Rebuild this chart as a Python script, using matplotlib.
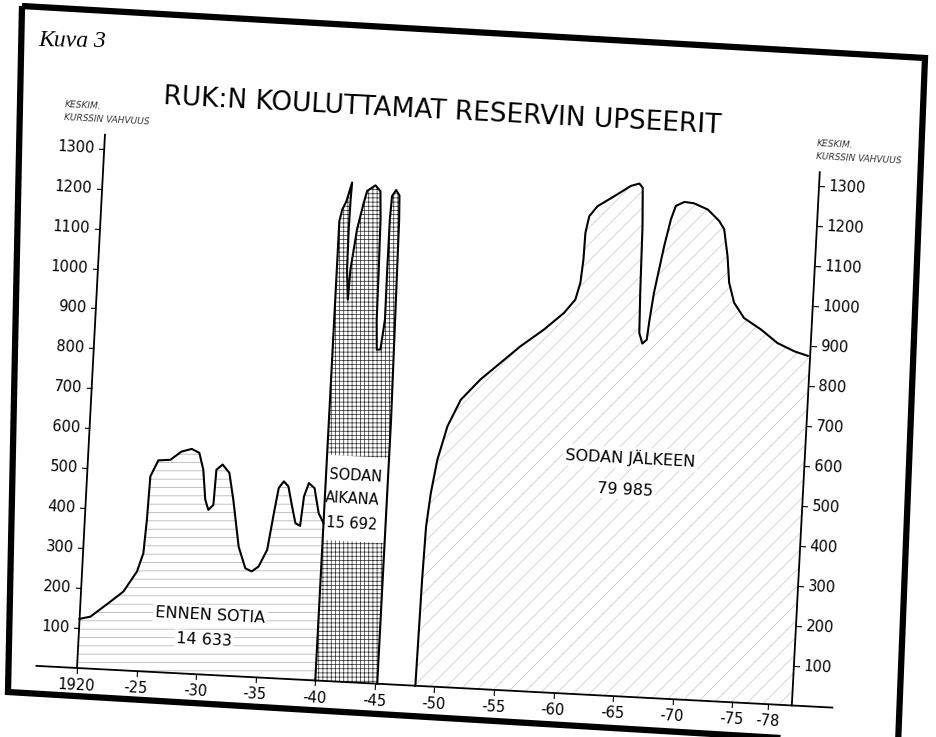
"""Kuva 3: RUK:n kouluttamat reservin upseerit (scanned page, drawn slightly tilted)."""

import matplotlib.pyplot as plt
import mpl_toolkits.axisartist.floating_axes as floating_axes
from matplotlib.patches import Polygon
from matplotlib.transforms import Affine2D
from mpl_toolkits.axisartist.grid_finder import DictFormatter, FixedLocator

plt.rcParams["hatch.linewidth"] = 0.5

# Axis ticks
year_ticks = [1920, 1925, 1930, 1935, 1940, 1945, 1950, 1955, 1960, 1965, 1970, 1975, 1978]
year_labels = ["1920", "-25", "-30", "-35", "-40", "-45", "-50", "-55", "-60", "-65", "-70", "-75", "-78"]
value_ticks = [100, 200, 300, 400, 500, 600, 700, 800, 900, 1000, 1100, 1200, 1300]

# Ennen sotia (average course strength)
prewar_years = [1920.0, 1920.9, 1922.5, 1923.55, 1924.6, 1925.05, 1925.2, 1925.3, 1925.9, 1926.9,
                1927.8, 1928.65, 1929.3, 1929.7, 1930.0, 1930.3, 1930.7, 1930.8, 1931.3, 1931.9,
                1932.35, 1933.0, 1933.65, 1934.2, 1934.75, 1935.4, 1935.8, 1936.1, 1936.5, 1936.9,
                1937.3, 1937.65, 1938.05, 1938.25, 1938.6, 1939.1, 1939.55, 1940.0]
prewar_values = [123, 130, 170, 197, 249, 295, 379, 488, 529, 532,
                 554, 562, 553, 512, 437, 412, 425, 513, 527, 507,
                 440, 324, 271, 264, 277, 320, 412, 476, 493, 481,
                 431, 390, 384, 458, 492, 480, 418, 394]

# Sodan aikana (outline of the column with its three spikes)
war_years = [1940.0, 1940.0, 1940.2, 1940.5, 1940.9, 1940.85, 1940.82, 1940.86, 1941.05, 1941.14,
             1941.52, 1941.96, 1942.2, 1942.87, 1943.31, 1943.44, 1943.51, 1943.56, 1943.7, 1944.0,
             1944.25, 1944.22, 1944.22, 1944.3, 1944.62, 1944.92, 1945.0, 1945.1, 1945.2, 1945.2]
war_values = [0, 1150, 1180, 1200, 1248, 1206, 1130, 1030, 955, 1031,
              1132, 1199, 1229, 1244, 1230, 1160, 1034, 909, 834, 835,
              910, 1036, 1161, 1219, 1235, 1222, 1162, 912, 661, 0]

# Sodan jalkeen
postwar_years = [1948.4, 1948.5, 1948.6, 1948.85, 1949.25, 1949.95, 1950.95, 1952.5, 1954.1, 1955.7,
                 1957.6, 1959.2, 1960.1, 1960.45, 1960.6, 1960.65, 1960.9, 1961.55, 1962.9, 1964.25,
                 1964.95, 1965.25, 1965.4, 1965.5, 1965.6, 1965.9, 1966.25, 1966.4, 1966.65, 1967.3,
                 1967.75, 1968.1, 1968.8, 1969.6, 1970.8, 1971.8, 1972.25, 1972.65, 1972.9, 1973.4,
                 1974.3, 1975.8, 1977.2, 1978.7, 1979.8]
postwar_values = [0, 265, 399, 483, 567, 652, 720, 773, 817, 861,
                  906, 950, 985, 1028, 1086, 1153, 1195, 1221, 1248, 1276,
                  1283, 1273, 1177, 1010, 910, 884, 894, 945, 1012, 1130,
                  1198, 1232, 1243, 1241, 1227, 1200, 1180, 1113, 1047, 998,
                  961, 934, 903, 884, 875]

period_names = ["ENNEN SOTIA", "SODAN", "AIKANA", "SODAN JÄLKEEN"]
period_totals = ["14 633", "15 692", "79 985"]

title = "RUK:N KOULUTTAMAT RESERVIN UPSEERIT"
axis_note = ["KESKIM.", "KURSSIN VAHVUUS"]

# Page geometry (pixels) and the tilt of the scanned page
W, H = 936, 737
tilt = -3.0
px_per_year = 11.93
px_per_unit = 0.4
origin_px = (77, 69)  # where 1920 / 0 sits, from the lower left corner
x_lo, x_hi = 1916.6, 1983.4
y_lo, y_hi = 0, 1335
right_axis_year = 1980

tr = Affine2D().translate(-1920, 0).scale(px_per_year, px_per_unit).rotate_deg(tilt)
corners = tr.transform([(x_lo, y_lo), (x_hi, y_lo), (x_hi, y_hi), (x_lo, y_hi)])
(cx0, cy0), (cx1, cy1) = corners.min(axis=0), corners.max(axis=0)
w, h = (cx1 - cx0) * 1.02, (cy1 - cy0) * 1.02
left = origin_px[0] + (cx0 + cx1) / 2 - w / 2
bottom = origin_px[1] + (cy0 + cy1) / 2 - h / 2

fig = plt.figure(figsize=(W / 100, H / 100), dpi=100)

grid_helper = floating_axes.GridHelperCurveLinear(
    tr,
    extremes=(x_lo, x_hi, y_lo, y_hi),
    grid_locator1=FixedLocator(year_ticks),
    tick_formatter1=DictFormatter(dict(zip(year_ticks, year_labels))),
    grid_locator2=FixedLocator(value_ticks),
    tick_formatter2=DictFormatter({v: str(v) for v in value_ticks}),
)
ax = fig.add_axes([left / W, bottom / H, w / W, h / H],
                  axes_class=floating_axes.FloatingAxes, grid_helper=grid_helper)
aux = ax.get_aux_axes(tr)

# Axes: x axis along the bottom, value scale at 1920 and again at the right end
for side in ["left", "right", "top"]:
    ax.axis[side].set_visible(False)
ax.axis["y_left"] = ax.new_floating_axis(0, 1920, axis_direction="left")
ax.axis["y_right"] = ax.new_floating_axis(0, right_axis_year, axis_direction="right")
ax.axis["y_left"].set_axis_direction("left")
ax.axis["y_right"].set_axis_direction("right")
for name in ["bottom", "y_left", "y_right"]:
    axis = ax.axis[name]
    axis.line.set_linewidth(1.3)
    axis.major_ticks.set_tick_out(True)
    axis.major_ticks.set_ticksize(4)
    axis.major_ticklabels.set_fontsize(10.5)
    axis.major_ticklabels.set_pad(3)

# Filled periods
aux.fill([1920] + prewar_years + [1940], [0] + prewar_values + [0],
         facecolor="none", edgecolor="#ababab", hatch="--", linewidth=0, zorder=1)
aux.fill(war_years, war_values, facecolor="none", edgecolor="#2a2a2a", hatch="++++",
         linewidth=0, zorder=1)
aux.fill(postwar_years + [right_axis_year, right_axis_year],
         postwar_values + [postwar_values[-1], 0],
         facecolor="none", edgecolor="#c6c6c6", hatch="//", linewidth=0, zorder=1)

# clear panel for the war-time label
aux.fill([1940, 1945.2, 1945.2, 1940], [352, 352, 565, 565], facecolor="white",
         edgecolor="none", zorder=2)

aux.plot(prewar_years, prewar_values, color="black", linewidth=1.5, zorder=3)
aux.plot(war_years, war_values, color="black", linewidth=1.5, zorder=3)
aux.plot(postwar_years, postwar_values, color="black", linewidth=1.5, zorder=3)

# Texts
txt = dict(rotation=tilt, rotation_mode="anchor", zorder=4)
box = dict(facecolor="white", edgecolor="none", pad=1.5)
aux.text(1948.1, 1438, title, ha="center", va="center", fontsize=19, **txt)
aux.text(1930.9, 150, period_names[0], ha="center", va="center", fontsize=11.5, bbox=box, **txt)
aux.text(1930.5, 86, period_totals[0], ha="center", va="center", fontsize=11.5, bbox=box, **txt)
aux.text(1940.25, 515, period_names[1], ha="left", va="center", fontsize=10.5, **txt)
aux.text(1940.05, 457, period_names[2], ha="left", va="center", fontsize=10.5, **txt)
aux.text(1940.25, 395, period_totals[1], ha="left", va="center", fontsize=10.5, **txt)
aux.text(1965.4, 597, period_names[3], ha="center", va="center", fontsize=11.5, bbox=box, **txt)
aux.text(1965.1, 517, period_totals[2], ha="center", va="center", fontsize=11.5, bbox=box, **txt)

for x0 in [1916.5, 1979.6]:
    aux.text(x0, 1405, axis_note[0], ha="left", va="center", fontsize=6.5,
             style="italic", color="#333333", **txt)
    aux.text(x0, 1373, axis_note[1], ha="left", va="center", fontsize=6.5,
             style="italic", color="#333333", **txt)

fig.text(38 / W, 1 - 47 / H, "Kuva 3", family="Liberation Serif", style="italic",
         fontsize=17, ha="left", va="baseline", rotation=-1)

# Heavy frame of the scanned page
frame_px = [(22, 6), (925, 58), (898, 745), (8, 692)]
frame = Polygon([(x / W, 1 - y / H) for x, y in frame_px], closed=True, fill=False,
                edgecolor="black", linewidth=4.5, transform=fig.transFigure, clip_on=False)
fig.add_artist(frame)

fig.savefig("out.png", dpi=100)
